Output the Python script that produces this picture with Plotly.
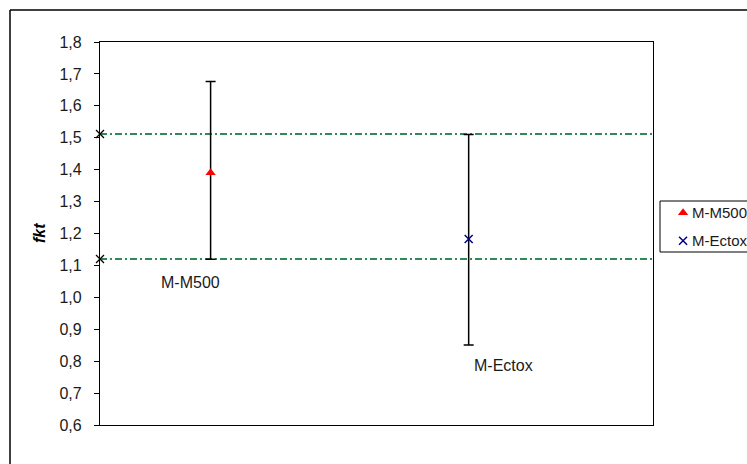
import plotly.graph_objects as go

# Measured shape factor per material, with its confidence range
materials = ["M-M500", "M-Ectox"]
x_pos = [0.3, 1.0]
fkt = [1.39, 1.183]
fkt_high = [1.676, 1.51]
fkt_low = [1.119, 0.851]

# Acceptance band (upper and lower limit)
limits = [1.512, 1.120]
x_range = [0.0, 1.5]

y_ticks = [0.6, 0.7, 0.8, 0.9, 1.0, 1.1, 1.2, 1.3, 1.4, 1.5, 1.6, 1.7, 1.8]
y_tick_text = [f"{v:.1f}".replace(".", ",") for v in y_ticks]

FONT = "Liberation Sans, Arial, sans-serif"
FS = 16
marker_styles = [
    dict(symbol="triangle-up", color="#ff0000", size=9),
    dict(symbol="x-thin", color="#000080", size=8, line=dict(color="#000080", width=1.5)),
]
# label offsets (px) relative to the lower end of each range
label_shift = [(-20, -23), (35, -21)]

# page geometry (px)
W, H = 747, 464
L, T, B = 100, 42, 39
PLOT_R = 653
PW = W - L

def px_x(p):
    return (p - L) / PW

def px_y(p):
    return (H - B - p) / (H - T - B)

fig = go.Figure()

# limit lines
for lim in limits:
    fig.add_trace(go.Scatter(
        x=x_range, y=[lim, lim], mode="lines",
        line=dict(color="#2e8b57", width=2, dash="7px,3px,2px,3px"),
        showlegend=False, hoverinfo="skip", cliponaxis=False,
    ))
    fig.add_trace(go.Scatter(
        x=[x_range[0]], y=[lim], mode="markers",
        marker=dict(symbol="x-thin", size=8, color="black", line=dict(color="black", width=1.3)),
        showlegend=False, hoverinfo="skip", cliponaxis=False,
    ))

for i, name in enumerate(materials):
    fig.add_trace(go.Scatter(
        x=[x_pos[i]], y=[fkt[i]], mode="markers", name=name,
        marker=marker_styles[i], showlegend=False,
        error_y=dict(
            type="data", symmetric=False,
            array=[fkt_high[i] - fkt[i]], arrayminus=[fkt[i] - fkt_low[i]],
            color="black", thickness=1.5, width=5,
        ),
    ))
    dx, dy = label_shift[i]
    fig.add_annotation(
        x=x_pos[i], y=fkt_low[i], text=name, showarrow=False,
        xshift=dx, yshift=dy, font=dict(size=FS, color="#1a1a1a", family=FONT),
    )

# legend box on its own small axis pair
legend_rows = [0.77, 0.22]
for i, name in enumerate(materials):
    fig.add_trace(go.Scatter(
        x=[0.265], y=[legend_rows[i]], mode="markers", marker=marker_styles[i],
        xaxis="x2", yaxis="y2", showlegend=False, hoverinfo="skip",
    ))
    fig.add_annotation(
        xref="x2", yref="y2", x=0.34, y=legend_rows[i], text=name,
        xanchor="left", yanchor="middle", showarrow=False,
        font=dict(size=15, color="#1a1a1a", family=FONT),
    )
fig.add_shape(type="rect", xref="x2 domain", yref="y2 domain",
              x0=0, x1=1.2, y0=0, y1=1, line=dict(color="black", width=1))

# y-axis title
fig.add_annotation(
    xref="paper", yref="paper", x=px_x(39), y=px_y(233), text="<b><i>fkt</i></b>",
    xanchor="center", yanchor="middle",
    textangle=-90, showarrow=False, font=dict(size=FS, color="black", family=FONT),
)

# outer chart frame (runs past the page edges)
fig.add_shape(type="line", xref="paper", yref="paper",
              x0=px_x(10), x1=px_x(10), y0=px_y(10), y1=-0.2,
              line=dict(color="black", width=1.5))
fig.add_shape(type="line", xref="paper", yref="paper",
              x0=px_x(10), x1=1.1, y0=px_y(10), y1=px_y(10),
              line=dict(color="black", width=1.5))

fig.update_layout(
    width=W, height=H,
    margin=dict(l=L, r=0, t=T, b=B, autoexpand=False),
    paper_bgcolor="white", plot_bgcolor="white",
    font=dict(family=FONT, size=FS, color="#1a1a1a"),
    xaxis=dict(domain=[0, px_x(PLOT_R)], range=x_range, showgrid=False, zeroline=False,
               showticklabels=False, ticks="", showline=True, linecolor="black",
               linewidth=1, mirror=True),
    yaxis=dict(range=[0.6, 1.8], tickvals=y_ticks, ticktext=y_tick_text,
               showgrid=False, zeroline=False, ticks="outside", ticklen=5,
               tickcolor="black", showline=True, linecolor="black", linewidth=1.3,
               mirror=True, ticklabelstandoff=9),
    xaxis2=dict(domain=[px_x(660), 1], range=[0, 1], visible=False, anchor="y2"),
    yaxis2=dict(domain=[px_y(252), px_y(201)], range=[0, 1], visible=False, anchor="x2"),
    showlegend=False,
)

fig.write_html("out.html")
